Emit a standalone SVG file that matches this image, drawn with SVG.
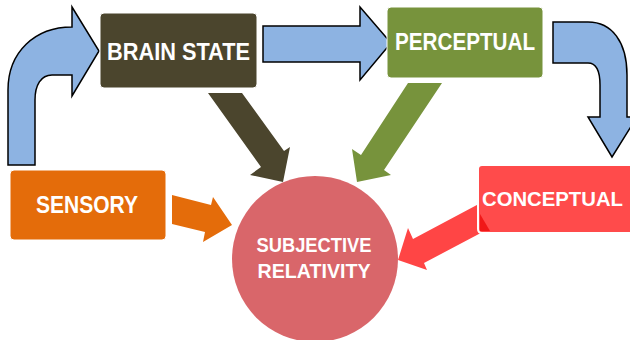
<svg xmlns="http://www.w3.org/2000/svg" width="630" height="340" viewBox="0 0 630 340">
  <style>
    .lbl { font-family: "Liberation Sans", Arial, sans-serif; font-weight: bold; fill: #ffffff; }
    .big { font-size: 23px; }
    .mid { font-size: 20px; }
    .blue { fill: #8DB3E2; stroke: #000000; stroke-width: 1.5; stroke-linejoin: miter; }
    .box { stroke: #ffffff; stroke-width: 1; }
  </style>
  <rect width="630" height="340" fill="#ffffff"/>

  <g id="subjective-relativity">
    <circle cx="315" cy="259" r="83" fill="#D9666A"/>
    <text class="lbl mid" x="314" y="252" text-anchor="middle" textLength="115" lengthAdjust="spacingAndGlyphs">SUBJECTIVE</text>
    <text class="lbl mid" x="314" y="278" text-anchor="middle" textLength="113" lengthAdjust="spacingAndGlyphs">RELATIVITY</text>
  </g>

  <g id="connectors">
    <path class="blue" d="M8,165 L8,90 C8,52 35,27 72,27 L72,7 L99,51 L72,96 L72,75 L52,75 C41,75 35,85 35,100 L35,165 Z"/>
    <path class="blue" d="M263,26 L360,26 L360,7 L391,43 L360,80 L360,62 L263,62 Z"/>
    <path class="blue" d="M553,22 L588,22 C612,22 627,42 627,75 L627,117 L637,117 L612,157 L588,117 L600,117 L600,85 C600,70 596,63 588,63 L553,63 Z"/>
    <polygon fill="#4B452D" points="208,93 242,93 284,151 290,147 283,182 250,175 261,167"/>
    <polygon fill="#77933C" points="408,83 442,83 384,170 391,175 357,182 352,149 361,155"/>
    <polygon fill="#E46C0A" points="172,195 211,205 213,197 232,225 203,242 205,232 172,224"/>
    <polygon fill="#FF4545" points="490,198 413,239 408,228 398,260 427,270 424,263 494,226"/>
  </g>

  <g id="brain-state">
    <rect class="box" x="100" y="13" width="157" height="75" rx="4" fill="#4B452D"/>
    <text class="lbl big" x="178.5" y="60" text-anchor="middle" textLength="143" lengthAdjust="spacingAndGlyphs">BRAIN STATE</text>
  </g>

  <g id="perceptual">
    <rect class="box" x="387" y="7" width="156" height="71" rx="4" fill="#77933C"/>
    <text class="lbl big" x="465" y="50" text-anchor="middle" textLength="140" lengthAdjust="spacingAndGlyphs">PERCEPTUAL</text>
  </g>

  <g id="sensory">
    <rect class="box" x="10" y="170" width="156" height="70" rx="4" fill="#E46C0A"/>
    <text class="lbl big" x="87" y="213" text-anchor="middle" textLength="102" lengthAdjust="spacingAndGlyphs">SENSORY</text>
  </g>

  <g id="conceptual">
    <path d="M482,165 H630 V233 H482 Q478,233 478,229 V169 Q478,165 482,165 Z" fill="#FF4B4B"/>
    <path d="M630,165 H482 Q478,165 478,169 V229 Q478,233 482,233 H630" fill="none" stroke="#ffffff" stroke-width="2"/>
    <polygon points="480,214 490,231 480,231" fill="#F01818"/>
    <text class="lbl" font-size="21" x="482" y="206" textLength="141" lengthAdjust="spacingAndGlyphs">CONCEPTUAL</text>
  </g>
</svg>
